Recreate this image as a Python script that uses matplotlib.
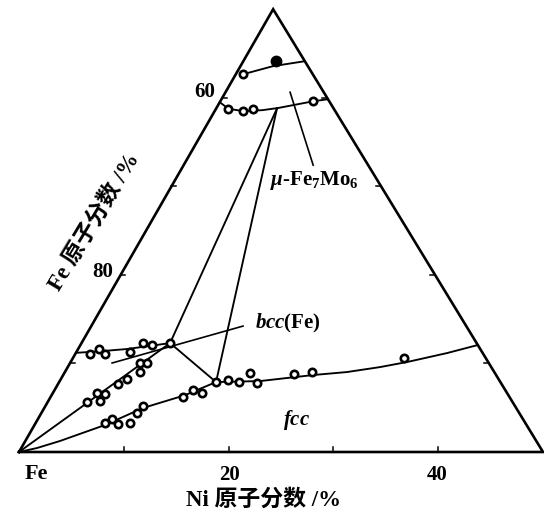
import numpy as np
import matplotlib
matplotlib.use('Agg')
import matplotlib.pyplot as plt

plt.rcParams['mathtext.fontset'] = 'custom'
plt.rcParams['mathtext.rm'] = 'Liberation Serif:bold'
plt.rcParams['mathtext.it'] = 'Liberation Serif:italic:bold'
plt.rcParams['mathtext.bf'] = 'Liberation Serif:bold'

FONT = ['Liberation Serif', 'Noto Sans CJK SC']

# compositions in at.% (Ni, Mo); Fe is the balance
mu_upper_ni = [0.7, 3.1, 5.87]
mu_upper_mo = [42.66, 43.57, 44.13]
mu_lower_ni = [0.0, 1.2, 2.7, 4.5, 5.9, 8.85, 10.16]
mu_lower_mo = [39.5, 38.75, 38.5, 38.6, 38.85, 39.6, 39.84]

bcc_upper_ni = [0.0, 2.0, 4.67, 6.8, 8.45]
bcc_upper_mo = [11.2, 11.35, 11.63, 12.0, 12.3]

fcc_lower_ni = [0.0, 1.5, 3.3, 6.73, 9.42, 12.7, 14.97]
fcc_lower_mo = [0.0, 0.45, 1.24, 3.05, 4.97, 6.4, 7.9]
fcc_upper_ni = [14.97, 19.11, 23.84, 26.92, 29.8, 32.1, 35.42, 37.92]
fcc_upper_mo = [7.9, 8.01, 8.69, 9.03, 9.59, 10.16, 11.17, 12.08]

# three-phase triangle corners
corner_mu = (5.8, 38.8)
corner_bcc = (8.45, 12.3)
corner_fcc = (14.97, 7.9)
corner_fe = (0.0, 0.0)

# measured alloys (open circles)
pts_ni = [0.7, 1.18, 2.72, 3.56, 8.85,
          1.41, 1.99, 2.84, 5.12, 5.87, 6.84, 8.45,
          3.75, 4.22, 4.94, 5.03, 5.73, 6.31, 6.68, 7.17, 7.35,
          6.62, 7.07, 7.91, 9.01, 9.12, 9.31, 12.64, 13.21, 14.24, 14.97,
          16.0, 17.17, 17.72, 18.93, 21.97, 23.58, 31.59]
pts_mo = [42.66, 38.71, 38.49, 38.71, 39.62,
          11.06, 11.63, 11.06, 11.29, 12.30, 12.08, 12.30,
          5.64, 6.66, 5.76, 6.55, 7.67, 8.24, 10.05, 9.03, 10.05,
          3.27, 3.72, 3.16, 3.27, 4.40, 5.19, 6.21, 7.0, 6.66, 7.9,
          8.13, 7.9, 8.92, 7.79, 8.8, 9.03, 10.61]
# filled circle
dot_ni = [3.13]
dot_mo = [44.13]

# label leader lines
mu_leader_ni = [6.16, 12.36]
mu_leader_mo = [40.63, 32.39]
bcc_leader_ni = [4.01, 14.48]
bcc_leader_mo = [10.05, 14.22]

tick_vals = [10, 20, 30, 40]


def tern(ni, mo):
    ni = np.asarray(ni, float)
    mo = np.asarray(mo, float)
    return ni + 0.485 * mo, 0.845 * mo


def px(x, y):
    return x / 544, 1 - y / 515


fig = plt.figure(figsize=(5.44, 5.15), dpi=100)
ax = fig.add_axes([0, 0, 1, 1])
ax.set_xlim(-19 / 10.48, 525 / 10.48)
ax.set_ylim(-63 / 10.48, 452 / 10.48)
ax.axis('off')

lw_in = 1.35
# triangle
tx, ty = tern([0, 50, 0, 0], [0, 0, 50, 0])
ax.plot(tx, ty, color='black', lw=1.9, solid_joinstyle='miter')

# ticks
tl = 0.45
for v in tick_vals:
    x, y = tern(v, 0)
    ax.plot([x, x], [y, y + tl], color='black', lw=1.1)
    x, y = tern(0, v)
    ax.plot([x, x + tl], [y, y], color='black', lw=1.1)
    x, y = tern(50 - v, v)
    ax.plot([x, x - tl], [y, y], color='black', lw=1.1)

# phase boundaries
for ni, mo in [(mu_upper_ni, mu_upper_mo), (mu_lower_ni, mu_lower_mo),
               (bcc_upper_ni, bcc_upper_mo), (fcc_lower_ni, fcc_lower_mo),
               (fcc_upper_ni, fcc_upper_mo)]:
    ax.plot(*tern(ni, mo), color='black', lw=lw_in)

# tie lines
for a, b in [(corner_mu, corner_bcc), (corner_mu, corner_fcc),
             (corner_bcc, corner_fcc), (corner_fe, corner_bcc)]:
    ax.plot(*tern([a[0], b[0]], [a[1], b[1]]), color='black', lw=lw_in)

ax.plot(*tern(mu_leader_ni, mu_leader_mo), color='black', lw=1.2)
ax.plot(*tern(bcc_leader_ni, bcc_leader_mo), color='black', lw=1.2)

ax.plot(*tern(pts_ni, pts_mo), 'o', ms=5.3, mew=1.9, mfc='white', mec='black', zorder=5)
ax.plot(*tern(dot_ni, dot_mo), 'o', ms=7.5, color='black', zorder=5)

kw = dict(transform=ax.transAxes, family=FONT, fontweight='bold',
          ha='center', va='center')
ax.text(*px(36, 474), 'Fe', fontsize=16, **kw)
ax.text(*px(229, 475), '20', fontsize=15, **kw)
ax.text(*px(437, 475), '40', fontsize=15, **kw)
ax.text(*px(205, 92), '60', fontsize=15, **kw)
ax.text(*px(103, 272), '80', fontsize=15, **kw)
ax.text(*px(263, 500), 'Ni 原子分数 /%', fontsize=16.5, **kw)
ax.text(*px(94, 222), 'Fe 原子分数 /%', fontsize=16.5, rotation=59, **kw)
ax.text(*px(314, 180), r'$\mu$-Fe$_\mathrm{7}$Mo$_\mathrm{6}$', fontsize=15, **kw)
ax.text(*px(288, 323), r'$bcc$(Fe)', fontsize=15, **kw)
ax.text(*px(297, 420), r'$fcc$', fontsize=15, **kw)

fig.savefig('out.png', dpi=100, facecolor='white')
